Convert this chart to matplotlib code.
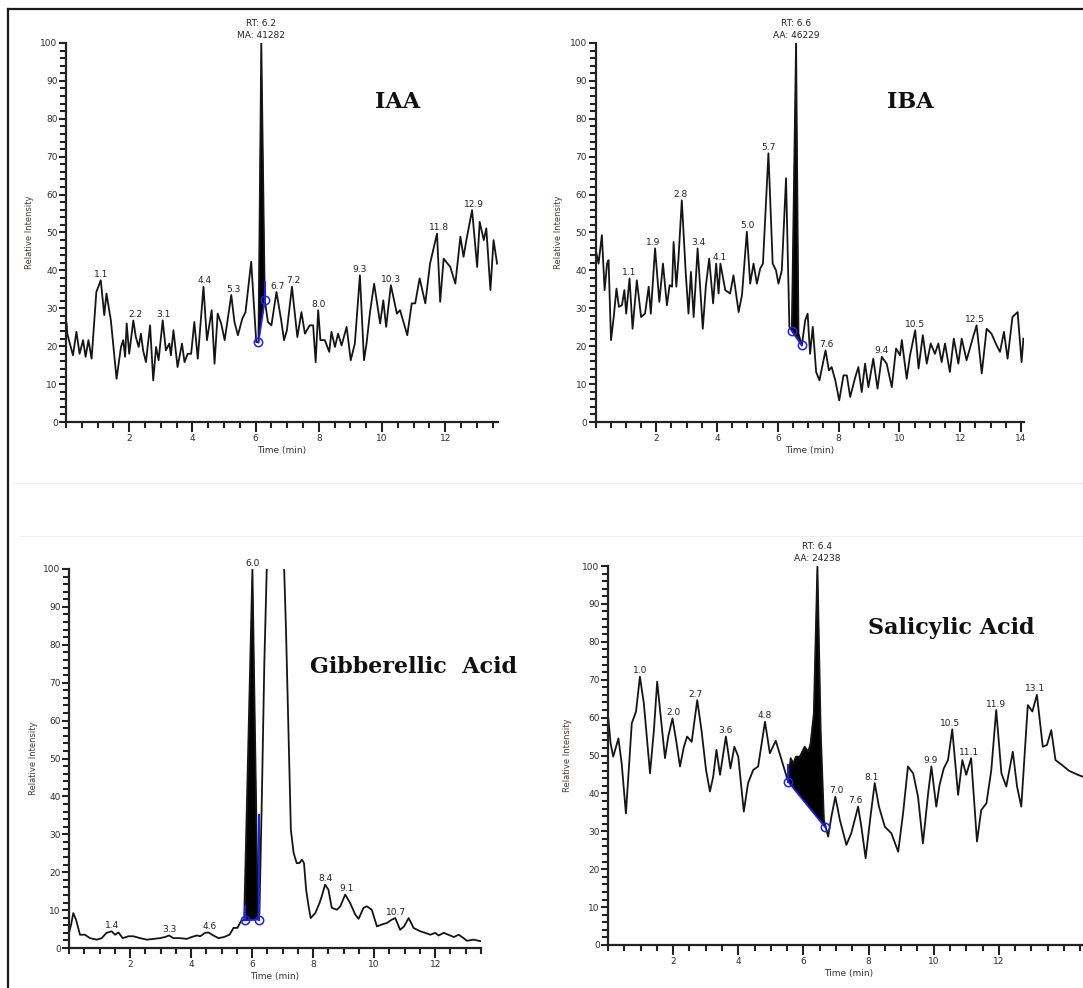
import numpy as np
import matplotlib
matplotlib.use("Agg")
import matplotlib.pyplot as plt
from matplotlib.lines import Line2D
from matplotlib.ticker import MultipleLocator

# ---- IAA ----
iaa_time = [0.02, 0.04, 0.15, 0.22, 0.33, 0.43, 0.54, 0.62, 0.71, 0.81, 0.96, 1.10, 1.21, 1.28, 1.42,
            1.60, 1.74, 1.81, 1.87, 1.92, 2.00, 2.13, 2.21, 2.30, 2.37, 2.44, 2.53, 2.66, 2.76, 2.85,
            2.93, 3.06, 3.16, 3.27, 3.32, 3.40, 3.53, 3.67, 3.75, 3.85, 3.96, 4.06, 4.17, 4.35, 4.46,
            4.61, 4.70, 4.80, 4.91, 5.02, 5.23, 5.33, 5.44, 5.58, 5.68, 5.86, 6.02, 6.09, 6.18, 6.29,
            6.39, 6.50, 6.66, 6.81, 6.90, 6.99, 7.15, 7.32, 7.45, 7.56, 7.71, 7.82, 7.90, 7.98, 8.05,
            8.19, 8.33, 8.40, 8.51, 8.61, 8.72, 8.88, 9.01, 9.14, 9.30, 9.43, 9.51, 9.62, 9.75, 9.94,
            10.04, 10.13, 10.28, 10.47, 10.57, 10.80, 10.94, 11.05, 11.19, 11.37, 11.52, 11.74, 11.84,
            11.95, 12.16, 12.32, 12.48, 12.58, 12.67, 12.85, 13.01, 13.09, 13.22, 13.30, 13.43, 13.53, 13.64]
iaa_int = [26.0, 23.3, 19.8, 17.6, 23.8, 18.0, 21.6, 17.2, 21.6, 16.7, 34.3, 37.4, 28.2, 33.9, 26.8,
           11.4, 19.8, 21.6, 17.2, 26.0, 18.0, 26.8, 22.4, 19.8, 23.3, 18.9, 15.8, 25.5, 11.0, 19.8,
           16.3, 26.8, 18.9, 20.7, 17.6, 24.2, 14.5, 20.7, 15.8, 18.0, 18.0, 26.4, 16.7, 35.7, 21.6,
           29.5, 15.4, 28.6, 26.0, 21.6, 33.5, 26.4, 22.9, 27.3, 29.0, 42.3, 21.1, 21.0, 100.0, 32.1,
           26.4, 25.5, 34.3, 26.8, 21.6, 24.2, 35.7, 22.4, 29.0, 23.3, 25.5, 25.5, 15.8, 29.5, 21.6,
           21.6, 18.5, 23.8, 19.8, 23.3, 20.2, 25.1, 16.3, 20.7, 38.7, 16.3, 20.7, 29.0, 36.5, 26.0,
           32.1, 25.1, 36.1, 28.6, 29.5, 22.9, 31.3, 31.3, 37.9, 31.3, 41.8, 49.7, 31.7,
           43.1, 40.9, 36.5, 48.9, 43.6, 48.0, 55.9, 40.9, 52.8, 48.0, 51.1, 34.8, 48.0, 41.8]
iaa_labels = ["1.1", "2.2", "3.1", "4.4", "5.3", "6.7", "7.2", "8.0", "9.3", "10.3", "11.8", "12.9"]
iaa_base = [(6.09, 21.0), (6.29, 32.1)]

# ---- IBA ----
iba_time = [0.03, 0.10, 0.21, 0.30, 0.38, 0.43, 0.51, 0.60, 0.69, 0.77, 0.87, 0.95, 1.01, 1.12, 1.22,
            1.36, 1.50, 1.63, 1.75, 1.82, 1.96, 2.10, 2.22, 2.35, 2.44, 2.52, 2.57, 2.66, 2.73, 2.84,
            2.97, 3.06, 3.14, 3.23, 3.36, 3.45, 3.53, 3.63, 3.74, 3.87, 3.97, 4.05, 4.11, 4.27, 4.43,
            4.54, 4.71, 4.82, 4.98, 5.09, 5.20, 5.31, 5.42, 5.51, 5.69, 5.83, 5.94, 6.02, 6.13, 6.27,
            6.38, 6.46, 6.60, 6.68, 6.79, 6.90, 6.98, 7.06, 7.15, 7.26, 7.37, 7.48, 7.57, 7.68, 7.77,
            7.89, 8.02, 8.16, 8.27, 8.38, 8.55, 8.65, 8.76, 8.87, 8.98, 9.14, 9.28, 9.42, 9.58, 9.75,
            9.89, 10.02, 10.08, 10.24, 10.35, 10.52, 10.63, 10.77, 10.90, 11.03, 11.17, 11.28, 11.39,
            11.50, 11.66, 11.79, 11.94, 12.05, 12.21, 12.41, 12.54, 12.71, 12.87, 13.03, 13.20, 13.31,
            13.44, 13.56, 13.72, 13.89, 14.02, 14.08]
iba_int = [44.5, 41.8, 49.3, 34.8, 41.8, 42.7, 21.6, 27.7, 35.2, 30.4, 30.8, 34.8, 28.6, 37.9, 24.6,
           37.4, 27.7, 28.6, 35.7, 28.6, 45.8, 31.7, 41.8, 30.8, 36.1, 35.7, 47.5, 35.7, 43.1, 58.5,
           39.2, 28.6, 39.6, 27.7, 45.8, 34.8, 24.6, 35.7, 43.1, 31.3, 41.8, 33.9, 41.8, 34.8, 33.9,
           38.7, 29.0, 33.5, 50.2, 36.5, 41.8, 36.5, 40.5, 41.8, 70.9, 41.8, 40.0, 36.5, 40.0, 64.3,
           25.1, 24.2, 100.0, 23.3, 20.2, 26.8, 28.6, 18.0, 25.1, 13.2, 11.0, 15.4, 18.9, 13.6, 14.5,
           11.0, 5.7, 12.3, 12.3, 6.6, 11.9, 14.5, 7.9, 15.4, 9.2, 16.7, 8.8, 17.2, 15.4, 9.2,
           19.4, 17.6, 21.6, 11.4, 17.6, 24.2, 14.1, 22.9, 15.4, 20.7, 18.0, 20.7, 15.8,
           20.7, 13.2, 22.0, 15.4, 22.0, 16.3, 22.0, 25.5, 12.8, 24.6, 23.3, 20.2, 18.5,
           23.8, 16.7, 27.7, 29.0, 15.8, 22.0]
iba_labels = ["1.1", "1.9", "2.8", "3.4", "4.1", "5.0", "5.7", "7.6", "9.4", "10.5", "12.5"]
iba_base = [(6.46, 24.0), (6.79, 20.2)]

# ---- Gibberellic acid ----
ga_time = [0.00, 0.07, 0.14, 0.23, 0.36, 0.52, 0.69, 0.91, 1.07, 1.23, 1.40, 1.51, 1.62, 1.76, 1.95,
           2.11, 2.33, 2.55, 2.77, 2.98, 3.15, 3.28, 3.42, 3.64, 3.86, 4.02, 4.19, 4.30, 4.46, 4.57,
           4.73, 4.90, 5.08, 5.26, 5.39, 5.52, 5.63, 5.74, 6.01, 6.19, 6.24, 6.32, 6.40, 6.48, 6.75,
           7.05, 7.11, 7.19, 7.27, 7.36, 7.46, 7.55, 7.63, 7.70, 7.77, 7.85, 7.92, 8.07, 8.21, 8.28,
           8.39, 8.50, 8.61, 8.78, 8.89, 9.05, 9.21, 9.38, 9.49, 9.65, 9.76, 9.92, 10.09, 10.25, 10.42,
           10.58, 10.69, 10.85, 10.98, 11.13, 11.29, 11.51, 11.67, 11.84, 12.00, 12.11, 12.28, 12.43,
           12.61, 12.77, 12.93, 13.04, 13.26, 13.48]
ga_int = [4.0, 6.2, 9.2, 7.5, 3.5, 3.5, 2.6, 2.2, 2.6, 4.0, 4.4, 3.5, 4.1, 2.6, 3.1,
          3.1, 2.6, 2.2, 2.4, 2.6, 2.9, 3.3, 2.6, 2.6, 2.4, 2.9, 3.3, 3.1, 4.0, 4.1,
          3.3, 2.6, 2.9, 3.5, 5.3, 5.3, 7.0, 7.5, 100.0, 7.7, 9.2, 40.0, 75.0, 100.0, 160.0,
          100.0, 84.0, 57.6, 31.2, 25.1, 22.4, 22.4, 23.3, 22.4, 15.4, 11.0, 7.9, 9.2, 11.9, 13.6,
          16.7, 15.4, 10.6, 10.1, 11.0, 14.1, 11.9, 8.8, 7.7, 10.6, 11.0, 10.1, 5.7, 6.2, 6.6,
          7.5, 7.9, 4.8, 5.7, 7.9, 5.3, 4.4, 4.0, 3.5, 4.0, 3.3, 4.0, 3.5,
          2.9, 3.5, 2.6, 1.9, 2.2, 1.8]
ga_labels = ["1.4", "3.3", "4.6", "6.0", "8.4", "9.1", "10.7"]
ga_base = [(5.76, 7.3), (6.21, 7.5)]

# ---- Salicylic acid ----
sa_time = [0.01, 0.08, 0.16, 0.32, 0.42, 0.55, 0.65, 0.73, 0.86, 0.98, 1.10, 1.29, 1.41, 1.51, 1.62,
           1.75, 1.85, 1.98, 2.09, 2.21, 2.33, 2.43, 2.57, 2.74, 2.87, 3.01, 3.13, 3.23, 3.33, 3.44,
           3.62, 3.76, 3.88, 4.00, 4.17, 4.30, 4.46, 4.61, 4.82, 4.97, 5.15, 5.30, 5.53, 5.61, 5.69,
           5.77, 5.89, 6.04, 6.15, 6.22, 6.32, 6.43, 6.53, 6.63, 6.76, 6.86, 6.98, 7.12, 7.32, 7.47,
           7.68, 7.78, 7.91, 8.06, 8.19, 8.32, 8.50, 8.70, 8.91, 9.06, 9.21, 9.37, 9.52, 9.67, 9.83,
           9.93, 10.08, 10.18, 10.31, 10.44, 10.57, 10.75, 10.88, 11.00, 11.15, 11.33, 11.46, 11.62,
           11.77, 11.92, 12.08, 12.23, 12.43, 12.56, 12.69, 12.89, 13.03, 13.17, 13.35, 13.48, 13.61,
           13.74, 13.94, 14.15, 14.40, 14.70]
sa_int = [59.8, 53.2, 49.7, 54.5, 47.9, 34.7, 47.9, 58.5, 61.6, 70.8, 63.8, 45.3, 56.7, 69.5, 60.2,
          49.3, 55.0, 59.8, 54.1, 47.1, 52.3, 55.0, 53.6, 64.6, 56.7, 46.2, 40.5, 44.4, 51.5, 44.9,
          55.0, 46.6, 52.3, 49.7, 35.2, 42.7, 46.2, 47.1, 58.9, 50.6, 53.9, 49.7, 43.1, 49.3, 47.9,
          49.7, 49.7, 52.3, 51.0, 53.2, 61.1, 100.0, 56.7, 33.0, 28.6, 33.9, 39.1, 33.0, 26.4, 29.5,
          36.5, 31.2, 22.9, 33.9, 42.7, 36.5, 31.2, 29.5, 24.6, 34.7, 47.1, 45.3, 39.1, 26.8, 40.0,
          47.1, 36.5, 42.2, 46.6, 48.8, 56.9, 39.6, 48.8, 44.9, 49.3, 27.3, 35.6, 37.4,
          46.2, 62.0, 45.3, 41.8, 51.0, 41.8, 36.5, 63.3, 61.6, 66.0, 52.3, 52.8, 56.7,
          48.8, 47.5, 46.0, 45.0, 44.0]
sa_labels = ["1.0", "2.0", "2.7", "3.6", "4.8", "7.0", "7.6", "8.1", "9.9", "10.5", "11.1", "11.9", "13.1"]
sa_base = [(5.53, 43.1), (6.66, 31.2)]

W, H = 1083, 988
fig = plt.figure(figsize=(W / 100, H / 100), dpi=100)
plt.rcParams["font.family"] = "DejaVu Sans"

INK = "#151515"
TICK_TXT = "#2e2e3c"
BLUE = "#1f22e0"


def px_axes(left, right, top, bottom):
    return fig.add_axes([left / W, 1 - bottom / H, (right - left) / W, (bottom - top) / H])


def chrom(ax, t, v, xmax, labels, base, rt=None, title=None, title_xy=None, label_up=None):
    t = np.asarray(t)
    v = np.asarray(v)
    ax.set_xlim(0, xmax)
    ax.set_ylim(0, 100)
    for s in ("top", "right"):
        ax.spines[s].set_visible(False)
    for s in ("left", "bottom"):
        ax.spines[s].set_linewidth(1.6)
        ax.spines[s].set_color("#222222")
    ax.xaxis.set_major_locator(MultipleLocator(2))
    ax.xaxis.set_minor_locator(MultipleLocator(0.5))
    ax.yaxis.set_major_locator(MultipleLocator(10))
    ax.yaxis.set_minor_locator(MultipleLocator(2))
    ax.tick_params(axis="x", which="major", length=7, width=1.5, pad=1.5,
                   labelsize=6.5, labelcolor=TICK_TXT, color="#222222")
    ax.tick_params(axis="x", which="minor", length=4, width=1.5, color="#222222")
    ax.tick_params(axis="y", which="major", length=5, width=1.5, pad=1,
                   labelsize=6.5, labelcolor=TICK_TXT, color="#222222")
    ax.tick_params(axis="y", which="minor", length=4, width=1.5, color="#222222")
    ax.set_xticks([2, 4, 6, 8, 10, 12] + ([14] if xmax >= 14 and xmax < 14.5 else []))
    ax.set_xlabel("Time (min)", fontsize=6.5, color="#333333", labelpad=2)
    ax.set_ylabel("Relative Intensity", fontsize=6, color="#4a3a3a")
    ax.yaxis.set_label_coords(-0.075, 0.5)
    ax.patch.set_alpha(0)

    # integrated peak fill
    (t1, b1), (t2, b2) = base
    inside = (t > t1) & (t < t2)
    fx = np.concatenate([[t1], t[inside], [t2]])
    fy = np.concatenate([[b1], v[inside], [b2]])
    ax.fill(np.concatenate([fx, [t2, t1]]), np.concatenate([fy, [b2, b1]]),
            color="black", lw=0.5)
    ax.plot(t, v, color=INK, lw=1.3, solid_joinstyle="round")
    ax.plot([t1, t2], [b1, b2], color=BLUE, lw=1.3)
    ax.plot([t1, t2], [b1, b2], "o", ms=6, mfc="none", mec=BLUE, mew=1.1)
    if label_up:
        for tt, y0, y1 in label_up:
            ax.plot([tt, tt], [y0, y1], color=BLUE, lw=1.5)

    for lab in labels:
        tl = float(lab)
        near = np.abs(t - tl) <= 0.09
        yv = v[near].max() if near.any() else np.interp(tl, t, v)
        yv = min(yv, 100)
        ax.annotate(lab, (tl, yv), xytext=(0, 1), textcoords="offset points",
                    ha="center", va="bottom", fontsize=6.5, color="#222222",
                    annotation_clip=False)
    if rt:
        tl = rt[0]
        ax.annotate(rt[1], (tl, 100), xytext=(0, 2), textcoords="offset points",
                    ha="center", va="bottom", fontsize=6.5, color="#222222",
                    linespacing=1.4, annotation_clip=False)
    if title:
        ax.text(title_xy[0], title_xy[1], title, transform=ax.transAxes,
                ha="center", va="center", fontsize=16, fontweight="bold",
                family="DejaVu Serif", color="#111111")


ax1 = px_axes(66, 498, 43, 422)
chrom(ax1, iaa_time, iaa_int, 13.67, iaa_labels, iaa_base,
      rt=(6.18, "RT: 6.2\nMA: 41282"), title="IAA", title_xy=(0.768, 0.844),
      label_up=[(6.29, 32.1, 37.0)])

ax2 = px_axes(595.5, 1024, 43, 422)
chrom(ax2, iba_time, iba_int, 14.1, iba_labels, iba_base,
      rt=(6.60, "RT: 6.6\nAA: 46229"), title="IBA", title_xy=(0.734, 0.844))

ax3 = px_axes(69, 481, 569, 948)
chrom(ax3, ga_time, ga_int, 13.5, ga_labels, ga_base,
      title="Gibberellic  Acid", title_xy=(0.836, 0.741),
      label_up=[(5.76, 7.3, 11.0), (6.21, 7.5, 35.0)])

ax4 = px_axes(608, 1090, 566, 945)
chrom(ax4, sa_time, sa_int, 14.8, sa_labels, sa_base,
      rt=(6.43, "RT: 6.4\nAA: 24238"), title="Salicylic Acid", title_xy=(0.712, 0.836),
      label_up=[(5.53, 43.1, 47.5)])

# outer frame lines (top and left)
fig.add_artist(Line2D([8 / W, 1], [1 - 9.5 / H, 1 - 9.5 / H], color="#1a1a1a", lw=1.6))
fig.add_artist(Line2D([8 / W, 8 / W], [0, 1 - 9.5 / H], color="#1a1a1a", lw=1.6))
fig.add_artist(Line2D([12 / W, 1], [1 - 483 / H, 1 - 483 / H], color="#f0f0f0", lw=0.8))
fig.add_artist(Line2D([20 / W, 1], [1 - 536 / H, 1 - 536 / H], color="#f0f0f0", lw=0.8))

fig.savefig("out.png", dpi=100)
